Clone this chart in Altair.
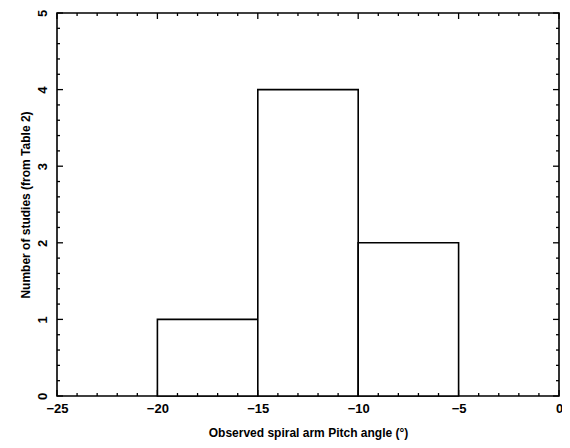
import altair as alt
import pandas as pd

# Histogram data
bin_start = [-20, -15, -10]
bin_end = [-15, -10, -5]
counts = [1, 4, 2]

# Tick positions
x_major = [-25, -20, -15, -10, -5, 0]
x_minor = [-24, -23, -22, -21, -19, -18, -17, -16, -14, -13, -12, -11,
           -9, -8, -7, -6, -4, -3, -2, -1]
y_major = [0, 1, 2, 3, 4, 5]
y_minor = [0.2, 0.4, 0.6, 0.8, 1.2, 1.4, 1.6, 1.8, 2.2, 2.4, 2.6, 2.8,
           3.2, 3.4, 3.6, 3.8, 4.2, 4.4, 4.6, 4.8]

W, H = 502, 383
MAJ, MIN = 6, 3
FONT = "Liberation Sans"

bars_df = pd.DataFrame({"x0": bin_start, "x1": bin_end, "n": counts})
xs = alt.Scale(domain=[-25, 0], nice=False, zero=False)
ys = alt.Scale(domain=[0, 5], nice=False)

xaxis = alt.Axis(
    values=x_major, title="Observed spiral arm Pitch angle (°)", grid=False,
    domain=False, ticks=False, labelPadding=6, titlePadding=12,
    labelFontSize=13, titleFontSize=12, labelFont=FONT, titleFont=FONT,
    labelColor="black", titleColor="black", labelFontWeight="bold",
    titleFontWeight="bold", labelFlush=False)
yaxis = alt.Axis(
    values=y_major, title="Number of studies (from Table 2)", grid=False,
    domain=False, ticks=False, labelAngle=270, labelAlign="center",
    labelBaseline="bottom", labelPadding=8, titlePadding=4,
    labelFontSize=13, titleFontSize=12, labelFont=FONT, titleFont=FONT,
    labelColor="black", titleColor="black", labelFontWeight="bold",
    titleFontWeight="bold", labelFlush=False)

bars = alt.Chart(bars_df).mark_rect(fill="white", stroke="black", strokeWidth=1.6).encode(
    x=alt.X("x0:Q", scale=xs, axis=xaxis),
    x2="x1:Q",
    y=alt.Y("n:Q", scale=ys, axis=yaxis),
    y2=alt.datum(0),
)

def xticks(vals, ln):
    d = pd.DataFrame({"v": vals})
    b = alt.Chart(d).mark_rule(color="black", strokeWidth=1.3).encode(
        x=alt.X("v:Q", scale=xs, axis=xaxis), y=alt.value(H), y2=alt.value(H - ln))
    t = alt.Chart(d).mark_rule(color="black", strokeWidth=1.3).encode(
        x=alt.X("v:Q", scale=xs, axis=xaxis), y=alt.value(0), y2=alt.value(ln))
    return [b, t]

def yticks(vals, ln):
    d = pd.DataFrame({"v": vals})
    l = alt.Chart(d).mark_rule(color="black", strokeWidth=1.3).encode(
        y=alt.Y("v:Q", scale=ys, axis=yaxis), x=alt.value(0), x2=alt.value(ln))
    r = alt.Chart(d).mark_rule(color="black", strokeWidth=1.3).encode(
        y=alt.Y("v:Q", scale=ys, axis=yaxis), x=alt.value(W), x2=alt.value(W - ln))
    return [l, r]

layers = [bars] + xticks(x_major, MAJ) + xticks(x_minor, MIN) + yticks(y_major, MAJ) + yticks(y_minor, MIN)

chart = alt.layer(*layers).properties(
    width=W, height=H,
    autosize=alt.AutoSizeParams(type="none"),
    padding={"left": 49, "top": 5, "right": 3, "bottom": 44},
    background="white",
).configure_view(stroke="black", strokeWidth=1.6)

chart.save("out.html", embed_options={"renderer": "svg", "actions": False})
